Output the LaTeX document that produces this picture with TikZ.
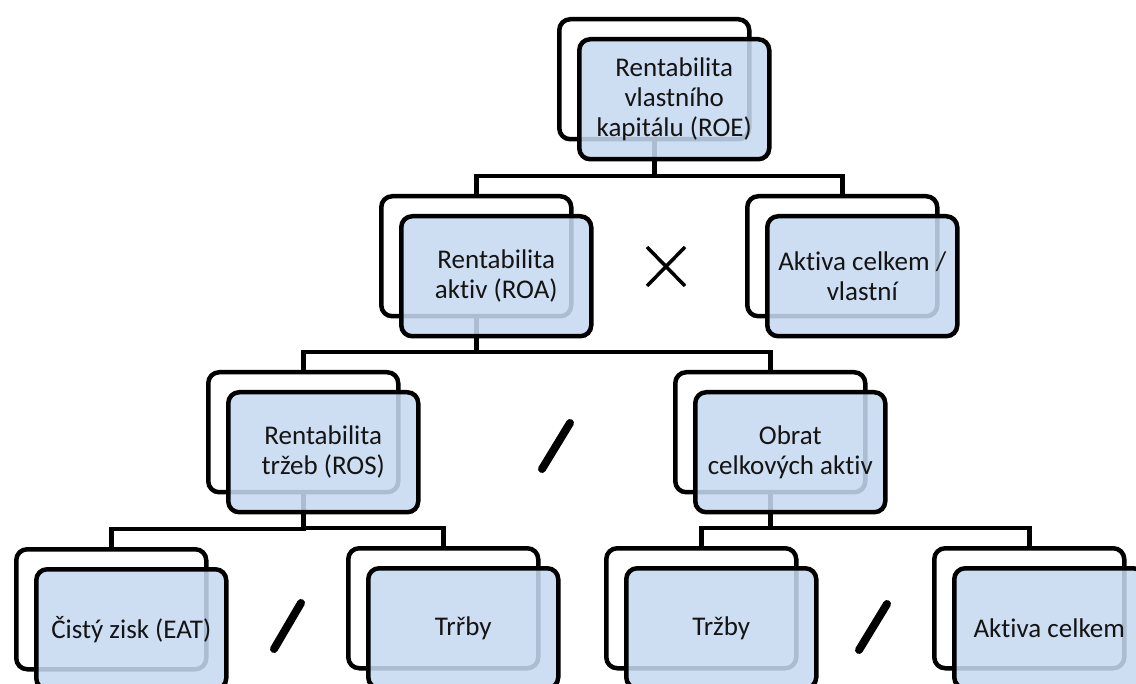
\documentclass[tikz,border=0pt]{standalone}
\usepackage{fontspec}
\setmainfont{Carlito}[Ligatures=NoCommon]
\usepackage{xcolor}
\definecolor{boxblue}{RGB}{198,217,241}
\definecolor{inktext}{RGB}{20,20,20}

\begin{document}
\begin{tikzpicture}[x=1pt,y=-1pt,
  backbox/.style={draw, line width=4.5pt, rounded corners=11pt, fill=white,
    minimum width=190pt, minimum height=120pt, anchor=north west},
  frontbox/.style={draw, line width=4.5pt, rounded corners=11pt, fill=boxblue,
    fill opacity=0.87, text opacity=1, text=inktext, minimum width=190pt, minimum height=120pt,
    inner sep=1pt, anchor=north west, align=center, font=\fontsize{27}{30}\selectfont},
  link/.style={line width=4.5pt},
  sign/.style={line width=3.5pt},
  slash/.style={line width=8pt, line cap=round}]
\clip (0,0) rectangle (1136,684);

% back boxes
\node[backbox] (roeB) at (557,17) {};
\node[backbox] (roaB) at (379,194) {};
\node[backbox] (akvB) at (745,194) {};
\node[backbox] (rosB) at (206,370) {};
\node[backbox] (obrB) at (673,370) {};
\node[backbox] (eatB) at (14,547) {};
\node[backbox] (tr1B) at (346,546) {};
\node[backbox] (tr2B) at (604,546) {};
\node[backbox] (akcB) at (932,546) {};

% links
\draw[link] (roaB.north) -- ++(0,-18) -| (roeB.south);
\draw[link] (akvB.north) -- ++(0,-18) -| (roeB.south);
\draw[link] (rosB.north) -- ++(0,-18) -| (roaB.south);
\draw[link] (obrB.north) -- ++(0,-18) -| (roaB.south);
\draw[link] (eatB.north) -- ++(0,-18) -| (rosB.south);
\draw[link] (tr1B.north) -- ++(0,-18) -| (rosB.south);
\draw[link] (tr2B.north) -- ++(0,-18) -| (obrB.south);
\draw[link] (akcB.north) -- ++(0,-18) -| (obrB.south);

% front boxes
\node[frontbox] (roe) at ([shift={(20,20)}]roeB.north west) {Rentabilita\\vlastního\\kapitálu (ROE)};
\node[frontbox] (roa) at ([shift={(20,20)}]roaB.north west) {Rentabilita\\aktiv (ROA)};
\node[frontbox] (akv) at ([shift={(20,20)}]akvB.north west) {Aktiva celkem /\\vlastní};
\node[frontbox] (ros) at ([shift={(20,20)}]rosB.north west) {Rentabilita\\tržeb (ROS)};
\node[frontbox] (obr) at ([shift={(20,20)}]obrB.north west) {Obrat\\celkových aktiv};
\node[frontbox] (eat) at ([shift={(20,20)}]eatB.north west) {Čistý zisk (EAT)};
\node[frontbox] (tr1) at ([shift={(20,20)}]tr1B.north west) {Trřby};
\node[frontbox] (tr2) at ([shift={(20,20)}]tr2B.north west) {Tržby};
\node[frontbox] (akc) at ([shift={(20,20)}]akcB.north west) {Aktiva celkem};

% operators
\draw[sign] (647,247) -- (685,286);
\draw[sign] (647,286) -- (685,247);
\draw[slash] (570,423) -- (542,469);
\draw[slash] (301,603) -- (274,649);
\draw[slash] (887,604) -- (859,650);
\end{tikzpicture}
\end{document}
